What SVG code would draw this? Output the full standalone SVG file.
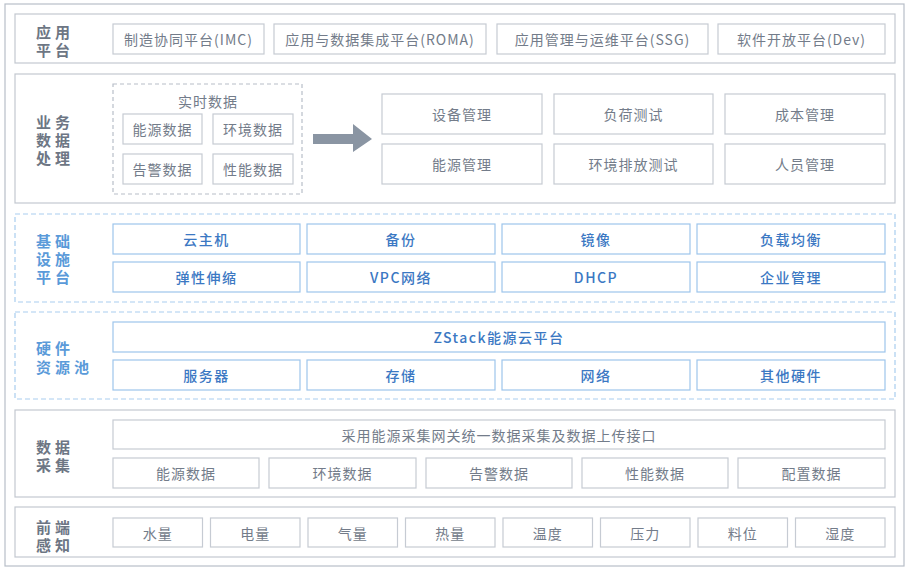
<svg xmlns="http://www.w3.org/2000/svg" width="911" height="574" viewBox="0 0 911 574">
<style>
text{font-family:"Noto Sans CJK SC","Noto Sans",sans-serif;dominant-baseline:central;text-anchor:middle}
.outer{fill:#fff;stroke:#b8bec8;stroke-width:1.2}
.sec{fill:#fff;stroke:#c3c8d0;stroke-width:1.2}
.dsec{fill:#fff;stroke:#a9cdef;stroke-width:1.2;stroke-dasharray:5 3}
.dgrey{fill:none;stroke:#b8bec8;stroke-width:1.2;stroke-dasharray:4 3}
.b{fill:#fff;stroke:#c6cbd3;stroke-width:1.2}
.bb{fill:#fff;stroke:#9dc5ec;stroke-width:1.2}
.t{font-size:14px;fill:#737c8a;letter-spacing:1px}
.tb{font-size:14px;fill:#3b78c3;letter-spacing:1.5px;font-weight:500}
.lab{font-size:15px;font-weight:bold;fill:#6d7684;letter-spacing:4px;text-anchor:start}
.labb{font-size:15px;font-weight:bold;fill:#5a9ad9;letter-spacing:4px;text-anchor:start}
</style>
<rect x="0" y="0" width="911" height="574" fill="#fff"/>
<rect class="outer" x="5" y="4" width="899" height="562"/>

<g id="sec-app">
<rect class="sec" x="15" y="14" width="880" height="49"/>
<text class="lab" x="36" y="31">应用</text>
<text class="lab" x="36" y="49">平台</text>
<g id="app-1"><rect class="b" x="113" y="24" width="151" height="30"/><text class="t" x="188.5" y="39">制造协同平台(IMC)</text></g>
<g id="app-2"><rect class="b" x="274" y="24" width="212" height="30"/><text class="t" x="380" y="39">应用与数据集成平台(ROMA)</text></g>
<g id="app-3"><rect class="b" x="497" y="24" width="211" height="30"/><text class="t" x="602.5" y="39">应用管理与运维平台(SSG)</text></g>
<g id="app-4"><rect class="b" x="718" y="24" width="167" height="30"/><text class="t" x="801.5" y="39">软件开放平台(Dev)</text></g>
</g>

<g id="sec-biz">
<rect class="sec" x="15" y="74" width="880" height="129"/>
<text class="lab" x="36" y="121">业务</text>
<text class="lab" x="36" y="139">数据</text>
<text class="lab" x="36" y="157">处理</text>
<g id="realtime">
<rect class="dgrey" x="113" y="84" width="189" height="110"/>
<text class="t" x="208" y="101">实时数据</text>
<g id="rt-1"><rect class="b" x="123" y="114" width="79" height="30"/><text class="t" x="162.5" y="129">能源数据</text></g>
<g id="rt-2"><rect class="b" x="213" y="114" width="80" height="30"/><text class="t" x="253" y="129">环境数据</text></g>
<g id="rt-3"><rect class="b" x="123" y="154" width="79" height="30"/><text class="t" x="162.5" y="169">告警数据</text></g>
<g id="rt-4"><rect class="b" x="213" y="154" width="80" height="30"/><text class="t" x="253" y="169">性能数据</text></g>
</g>
<g id="biz-1"><rect class="b" x="382" y="94" width="160" height="40"/><text class="t" x="462" y="114">设备管理</text></g>
<g id="biz-2"><rect class="b" x="554" y="94" width="159" height="40"/><text class="t" x="633.5" y="114">负荷测试</text></g>
<g id="biz-3"><rect class="b" x="725" y="94" width="160" height="40"/><text class="t" x="805" y="114">成本管理</text></g>
<g id="biz-4"><rect class="b" x="382" y="144" width="160" height="40"/><text class="t" x="462" y="164">能源管理</text></g>
<g id="biz-5"><rect class="b" x="554" y="144" width="159" height="40"/><text class="t" x="633.5" y="164">环境排放测试</text></g>
<g id="biz-6"><rect class="b" x="725" y="144" width="160" height="40"/><text class="t" x="805" y="164">人员管理</text></g>
</g>

<g id="connectors">
<polygon points="313,134 353,134 353,124 372,139 353,152 353,144 313,144" fill="#8a95a3"/>
</g>

<g id="sec-infra">
<rect class="dsec" x="15" y="214" width="880" height="88"/>
<text class="labb" x="36" y="240">基础</text>
<text class="labb" x="36" y="258">设施</text>
<text class="labb" x="36" y="276">平台</text>
<g id="inf-1"><rect class="bb" x="113" y="224" width="187" height="30"/><text class="tb" x="206.5" y="239">云主机</text></g>
<g id="inf-2"><rect class="bb" x="307" y="224" width="188" height="30"/><text class="tb" x="401" y="239">备份</text></g>
<g id="inf-3"><rect class="bb" x="502" y="224" width="188" height="30"/><text class="tb" x="596" y="239">镜像</text></g>
<g id="inf-4"><rect class="bb" x="697" y="224" width="188" height="30"/><text class="tb" x="791" y="239">负载均衡</text></g>
<g id="inf-5"><rect class="bb" x="113" y="262" width="187" height="30"/><text class="tb" x="206.5" y="277">弹性伸缩</text></g>
<g id="inf-6"><rect class="bb" x="307" y="262" width="188" height="30"/><text class="tb" x="401" y="277">VPC网络</text></g>
<g id="inf-7"><rect class="bb" x="502" y="262" width="188" height="30"/><text class="tb" x="596" y="277">DHCP</text></g>
<g id="inf-8"><rect class="bb" x="697" y="262" width="188" height="30"/><text class="tb" x="791" y="277">企业管理</text></g>
</g>

<g id="sec-hw">
<rect class="dsec" x="15" y="312" width="880" height="87"/>
<text class="labb" x="36" y="347">硬件</text>
<text class="labb" x="36" y="366">资源池</text>
<g id="hw-0"><rect class="bb" x="113" y="322" width="772" height="30"/><text class="tb" x="499" y="337">ZStack能源云平台</text></g>
<g id="hw-1"><rect class="bb" x="113" y="360" width="187" height="30"/><text class="tb" x="206.5" y="375">服务器</text></g>
<g id="hw-2"><rect class="bb" x="307" y="360" width="188" height="30"/><text class="tb" x="401" y="375">存储</text></g>
<g id="hw-3"><rect class="bb" x="502" y="360" width="188" height="30"/><text class="tb" x="596" y="375">网络</text></g>
<g id="hw-4"><rect class="bb" x="697" y="360" width="188" height="30"/><text class="tb" x="791" y="375">其他硬件</text></g>
</g>

<g id="sec-collect">
<rect class="sec" x="15" y="410" width="880" height="87"/>
<text class="lab" x="36" y="446">数据</text>
<text class="lab" x="36" y="464">采集</text>
<g id="col-0"><rect class="b" x="113" y="420" width="772" height="29"/><text class="t" x="499" y="434.5">采用能源采集网关统一数据采集及数据上传接口</text></g>
<g id="col-1"><rect class="b" x="113" y="458" width="146" height="30"/><text class="t" x="186" y="473">能源数据</text></g>
<g id="col-2"><rect class="b" x="269" y="458" width="147" height="30"/><text class="t" x="342.5" y="473">环境数据</text></g>
<g id="col-3"><rect class="b" x="426" y="458" width="146" height="30"/><text class="t" x="499" y="473">告警数据</text></g>
<g id="col-4"><rect class="b" x="582" y="458" width="146" height="30"/><text class="t" x="655" y="473">性能数据</text></g>
<g id="col-5"><rect class="b" x="738" y="458" width="147" height="30"/><text class="t" x="811.5" y="473">配置数据</text></g>
</g>

<g id="sec-sense">
<rect class="sec" x="15" y="507" width="880" height="50"/>
<text class="lab" x="36" y="526">前端</text>
<text class="lab" x="36" y="544">感知</text>
<g id="s-1"><rect class="b" x="113" y="518" width="89.5" height="29"/><text class="t" x="157.75" y="532.5">水量</text></g>
<g id="s-2"><rect class="b" x="210.5" y="518" width="89.5" height="29"/><text class="t" x="255.25" y="532.5">电量</text></g>
<g id="s-3"><rect class="b" x="308" y="518" width="89.5" height="29"/><text class="t" x="352.75" y="532.5">气量</text></g>
<g id="s-4"><rect class="b" x="405.5" y="518" width="89.5" height="29"/><text class="t" x="450.25" y="532.5">热量</text></g>
<g id="s-5"><rect class="b" x="503" y="518" width="89.5" height="29"/><text class="t" x="547.75" y="532.5">温度</text></g>
<g id="s-6"><rect class="b" x="600.5" y="518" width="89.5" height="29"/><text class="t" x="645.25" y="532.5">压力</text></g>
<g id="s-7"><rect class="b" x="698" y="518" width="89.5" height="29"/><text class="t" x="742.75" y="532.5">料位</text></g>
<g id="s-8"><rect class="b" x="795.5" y="518" width="89.5" height="29"/><text class="t" x="840.25" y="532.5">湿度</text></g>
</g>
</svg>
